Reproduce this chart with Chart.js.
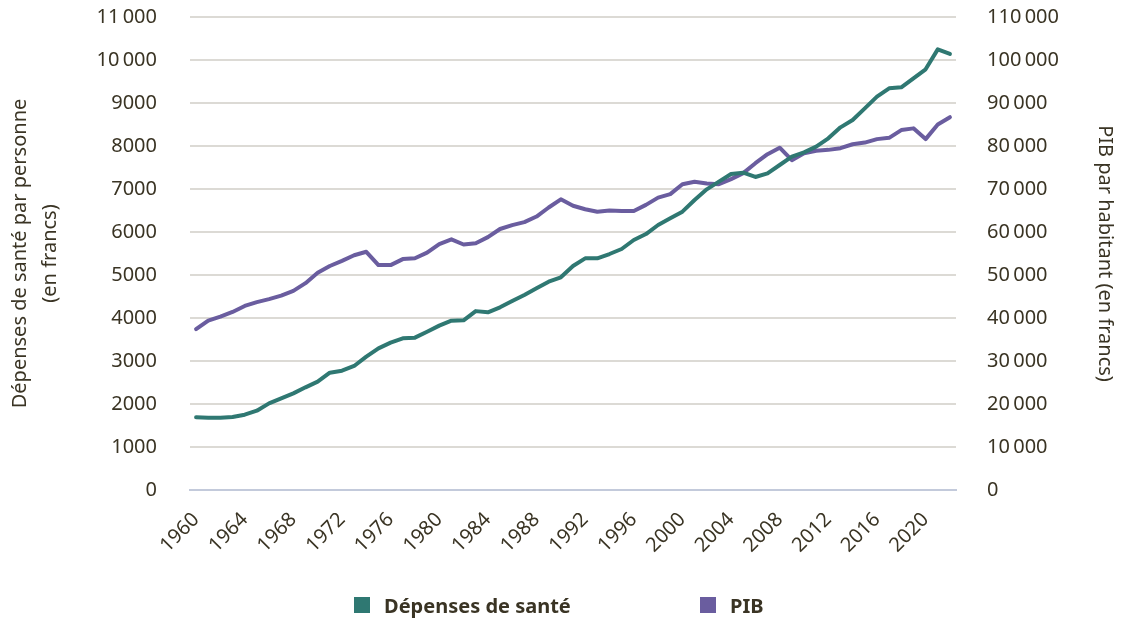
<!DOCTYPE html>
<html>
<head>
<meta charset="utf-8">
<script src="https://cdn.jsdelivr.net/npm/chart.js@4.4.1/dist/chart.umd.min.js"></script>
<style>
  html, body { margin: 0; padding: 0; background: #ffffff; }
  #wrap { position: relative; width: 1121px; height: 618px; }
  #legend { position: absolute; left: 0; top: 592px; width: 1121px; height: 26px; font-family: "Noto Sans", sans-serif; font-weight: 700; font-size: 20px; color: #3a3424; }
  .item { position: absolute; top: 0; display: flex; align-items: center; height: 26px; }
  .box { width: 16px; height: 16px; margin-right: 14px; }
</style>
</head>
<body>
<div id="wrap">
  <canvas id="c" width="1121" height="618"></canvas>
  <div id="legend"></div>
</div>
<script>
const years = ["1960","1961","1962","1963","1964","1965","1966","1967","1968","1969",
  "1970","1971","1972","1973","1974","1975","1976","1977","1978","1979",
  "1980","1981","1982","1983","1984","1985","1986","1987","1988","1989",
  "1990","1991","1992","1993","1994","1995","1996","1997","1998","1999",
  "2000","2001","2002","2003","2004","2005","2006","2007","2008","2009",
  "2010","2011","2012","2013","2014","2015","2016","2017","2018","2019",
  "2020","2021","2022"];
const xTickLabels = ["1960","1964","1968","1972","1976","1980","1984","1988","1992","1996","2000","2004","2008","2012","2016","2020"];
const depensesSante = [1690,1682,1682,1698,1752,1845,2015,2132,2248,2388,
  2519,2729,2775,2884,3101,3295,3426,3527,3543,3682,
  3822,3938,3946,4160,4132,4248,4395,4535,4690,4845,
  4946,5209,5388,5388,5488,5605,5814,5953,6163,6318,
  6473,6744,6992,7171,7349,7380,7280,7364,7558,7752,
  7853,7984,8178,8434,8605,8876,9147,9341,9364,9574,
  9783,10248,10140];
const pib = [37400,39400,40300,41400,42800,43700,44400,45200,46300,48100,
  50500,52100,53300,54600,55400,52300,52300,53700,53900,55200,
  57200,58300,57100,57400,58800,60700,61600,62300,63600,65700,
  67600,66100,65300,64700,65000,64900,64900,66300,68000,68800,
  71100,71700,71300,71100,72300,73700,76000,78100,79600,76700,
  78300,78900,79100,79500,80400,80800,81600,81900,83700,84100,
  81600,85000,86700];
const leftTickLabels = ["0","1000","2000","3000","4000","5000","6000","7000","8000","9000","10\u202f000","11\u202f000"];
const rightTickLabels = ["0","10\u202f000","20\u202f000","30\u202f000","40\u202f000","50\u202f000","60\u202f000","70\u202f000","80\u202f000","90\u202f000","100\u202f000","110\u202f000"];
const seriesNames = ["Dépenses de santé", "PIB"];
const seriesColors = ["#2f7872", "#6a5d9f"];

const FONT = "'Noto Sans', sans-serif";
const TXT = "#3a3424";

const chart = new Chart(document.getElementById('c'), {
  type: 'line',
  data: {
    labels: years,
    datasets: [
      { label: seriesNames[0], data: depensesSante, yAxisID: 'y', borderColor: seriesColors[0], backgroundColor: seriesColors[0], borderWidth: 4, pointRadius: 0, tension: 0, borderJoinStyle: 'round', borderCapStyle: 'round' },
      { label: seriesNames[1], data: pib, yAxisID: 'y1', borderColor: seriesColors[1], backgroundColor: seriesColors[1], borderWidth: 4, pointRadius: 0, tension: 0, borderJoinStyle: 'round', borderCapStyle: 'round' }
    ]
  },
  options: {
    responsive: false,
    animation: false,
    layout: { padding: { top: 17, left: 0, right: 0, bottom: 0 } },
    plugins: { legend: { display: false }, tooltip: { enabled: false } },
    scales: {
      x: {
        type: 'category',
        offset: true,
        grid: { display: true, drawOnChartArea: false, drawTicks: true, tickLength: 18, tickColor: 'rgba(0,0,0,0)' },
        border: { display: true, color: '#c3cadb', width: 2 },
        ticks: {
          autoSkip: false, maxRotation: 45, minRotation: 45, padding: 0, labelOffset: 0,
          color: TXT, font: { family: FONT, size: 20 },
          callback: function(v, i) { const y = years[i]; return xTickLabels.includes(y) ? y : ''; }
        },
        afterFit: function(s) { s.height = 128; }
      },
      y: {
        position: 'left', min: 0, max: 11000,
        afterBuildTicks: function(s) { s.ticks = leftTickLabels.map((t, i) => ({ value: i * 1000 })); },
        ticks: { padding: 3, color: TXT, font: { family: FONT, size: 20 }, callback: function(v, i) { return leftTickLabels[i]; } },
        grid: { color: '#dcdad5', lineWidth: 2, drawTicks: true, tickLength: 30, tickColor: 'rgba(0,0,0,0)' },
        border: { display: false },
        title: { display: true, text: ['Dépenses de santé par personne', '(en francs)'], color: TXT, font: { family: FONT, size: 20, lineHeight: 1.5 }, padding: { top: 5, bottom: 0 } },
        afterFit: function(s) { s.width = 190; }
      },
      y1: {
        position: 'right', min: 0, max: 110000,
        afterBuildTicks: function(s) { s.ticks = rightTickLabels.map((t, i) => ({ value: i * 10000 })); },
        ticks: { padding: 3, color: TXT, font: { family: FONT, size: 20 }, callback: function(v, i) { return rightTickLabels[i]; } },
        grid: { display: true, drawOnChartArea: false, drawTicks: true, tickLength: 28, tickColor: 'rgba(0,0,0,0)' },
        border: { display: false },
        title: { display: true, text: 'PIB par habitant (en francs)', color: TXT, font: { family: FONT, size: 20 }, padding: { top: 4, bottom: 0 } },
        afterFit: function(s) { s.width = 165; }
      }
    }
  }
});

// HTML legend
const legend = document.getElementById('legend');
const legendX = [354, 700];
seriesNames.forEach((n, i) => {
  const it = document.createElement('div');
  it.className = 'item';
  it.style.left = legendX[i] + 'px';
  const b = document.createElement('div');
  b.className = 'box';
  b.style.background = seriesColors[i];
  const t = document.createElement('span');
  t.textContent = n;
  it.appendChild(b); it.appendChild(t);
  legend.appendChild(it);
});
</script>
</body>
</html>
